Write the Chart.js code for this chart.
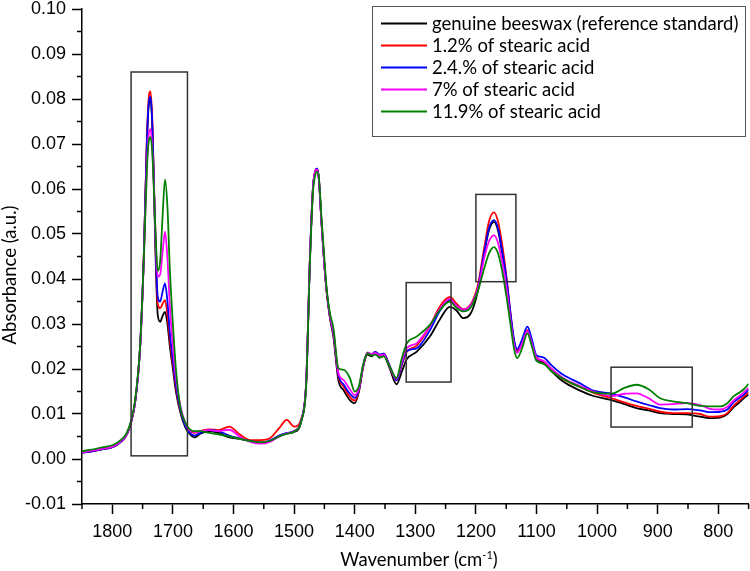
<!DOCTYPE html>
<html>
<head>
<meta charset="utf-8">
<script src="https://cdn.jsdelivr.net/npm/chart.js@4.4.1/dist/chart.umd.min.js"></script>
<style>
  body { margin: 0; background: #fff; }
</style>
</head>
<body>
<canvas id="spectraChart" width="750" height="571"></canvas>
<script>
// wavenumbers (cm-1), shared by every spectrum
const wavenumbers = [1850, 1820, 1790, 1772, 1762, 1754, 1748, 1743, 1740, 1737, 1734, 1731, 1728, 1725, 1721, 1717, 1713, 1709, 1705, 1700, 1695, 1688, 1680, 1672, 1664, 1655, 1640, 1625, 1607, 1590, 1572, 1555, 1540, 1525, 1512, 1500, 1488, 1480, 1474, 1469, 1465, 1462, 1459, 1455, 1450, 1446, 1441, 1435, 1427, 1418, 1408, 1400, 1393, 1386, 1379, 1372, 1366, 1359, 1352, 1342, 1331, 1322, 1314, 1298, 1276, 1260, 1243, 1232, 1221, 1208, 1197, 1186, 1178, 1170, 1163, 1157, 1150, 1143, 1137, 1132, 1124, 1115, 1108, 1100, 1089, 1075, 1056, 1028, 1006, 976, 955, 935, 915, 896, 875, 852, 830, 815, 797, 785, 775, 765, 758, 750];

const beeswax = [0.0014, 0.0021, 0.0034, 0.0068, 0.0130, 0.0250, 0.0450, 0.0700, 0.0785, 0.0800, 0.0740, 0.0590, 0.0420, 0.0320, 0.0305, 0.0318, 0.0327, 0.0300, 0.0250, 0.0200, 0.0150, 0.0105, 0.0072, 0.0055, 0.0048, 0.0056, 0.0062, 0.0058, 0.0048, 0.0045, 0.0040, 0.0037, 0.0040, 0.0050, 0.0057, 0.0060, 0.0085, 0.0170, 0.0440, 0.0600, 0.0640, 0.0645, 0.0620, 0.0530, 0.0430, 0.0368, 0.0315, 0.0270, 0.0176, 0.0152, 0.0131, 0.0124, 0.0150, 0.0205, 0.0232, 0.0228, 0.0235, 0.0225, 0.0230, 0.0200, 0.0166, 0.0195, 0.0222, 0.0238, 0.0272, 0.0309, 0.0338, 0.0330, 0.0313, 0.0325, 0.0372, 0.0460, 0.0510, 0.0527, 0.0505, 0.0460, 0.0400, 0.0320, 0.0260, 0.0240, 0.0258, 0.0286, 0.0260, 0.0224, 0.0215, 0.0195, 0.0172, 0.0152, 0.0140, 0.0131, 0.0122, 0.0113, 0.0108, 0.0102, 0.0100, 0.0099, 0.0094, 0.0091, 0.0092, 0.0100, 0.0115, 0.0126, 0.0135, 0.0143];

const stearic12 = [0.0014, 0.0021, 0.0034, 0.0068, 0.0130, 0.0252, 0.0455, 0.0710, 0.0800, 0.0817, 0.0755, 0.0600, 0.0440, 0.0345, 0.0335, 0.0345, 0.0353, 0.0320, 0.0265, 0.0210, 0.0158, 0.0110, 0.0078, 0.0062, 0.0058, 0.0062, 0.0066, 0.0064, 0.0072, 0.0055, 0.0042, 0.0042, 0.0046, 0.0068, 0.0087, 0.0072, 0.0090, 0.0172, 0.0440, 0.0600, 0.0640, 0.0645, 0.0620, 0.0530, 0.0430, 0.0368, 0.0316, 0.0275, 0.0185, 0.0160, 0.0138, 0.0130, 0.0152, 0.0205, 0.0235, 0.0232, 0.0238, 0.0230, 0.0234, 0.0205, 0.0175, 0.0210, 0.0238, 0.0252, 0.0295, 0.0338, 0.0360, 0.0345, 0.0333, 0.0345, 0.0385, 0.0472, 0.0530, 0.0548, 0.0525, 0.0480, 0.0410, 0.0325, 0.0260, 0.0242, 0.0260, 0.0286, 0.0260, 0.0226, 0.0218, 0.0200, 0.0178, 0.0160, 0.0147, 0.0135, 0.0126, 0.0118, 0.0112, 0.0105, 0.0102, 0.0102, 0.0100, 0.0094, 0.0095, 0.0102, 0.0118, 0.0130, 0.0138, 0.0148];

const stearic24 = [0.0014, 0.0021, 0.0034, 0.0068, 0.0130, 0.0251, 0.0452, 0.0700, 0.0790, 0.0805, 0.0745, 0.0595, 0.0450, 0.0360, 0.0350, 0.0372, 0.0390, 0.0350, 0.0280, 0.0220, 0.0165, 0.0112, 0.0075, 0.0058, 0.0052, 0.0058, 0.0064, 0.0062, 0.0052, 0.0046, 0.0040, 0.0036, 0.0041, 0.0052, 0.0058, 0.0062, 0.0087, 0.0172, 0.0440, 0.0600, 0.0640, 0.0645, 0.0620, 0.0530, 0.0430, 0.0370, 0.0318, 0.0278, 0.0188, 0.0165, 0.0145, 0.0136, 0.0155, 0.0207, 0.0236, 0.0233, 0.0238, 0.0232, 0.0234, 0.0206, 0.0175, 0.0212, 0.0240, 0.0246, 0.0286, 0.0328, 0.0353, 0.0340, 0.0331, 0.0342, 0.0378, 0.0462, 0.0515, 0.0531, 0.0510, 0.0465, 0.0405, 0.0325, 0.0265, 0.0244, 0.0265, 0.0294, 0.0268, 0.0230, 0.0226, 0.0208, 0.0187, 0.0168, 0.0152, 0.0145, 0.0137, 0.0128, 0.0120, 0.0113, 0.0110, 0.0111, 0.0108, 0.0104, 0.0105, 0.0110, 0.0126, 0.0136, 0.0143, 0.0154];

const stearic7 = [0.0015, 0.0022, 0.0035, 0.0069, 0.0132, 0.0250, 0.0440, 0.0655, 0.0720, 0.0733, 0.0690, 0.0590, 0.0470, 0.0405, 0.0410, 0.0460, 0.0505, 0.0445, 0.0340, 0.0250, 0.0180, 0.0120, 0.0082, 0.0063, 0.0060, 0.0062, 0.0064, 0.0062, 0.0065, 0.0050, 0.0038, 0.0034, 0.0038, 0.0050, 0.0057, 0.0062, 0.0086, 0.0170, 0.0440, 0.0598, 0.0640, 0.0643, 0.0620, 0.0530, 0.0430, 0.0370, 0.0320, 0.0282, 0.0192, 0.0175, 0.0155, 0.0142, 0.0158, 0.0208, 0.0237, 0.0233, 0.0236, 0.0230, 0.0232, 0.0204, 0.0178, 0.0218, 0.0246, 0.0257, 0.0296, 0.0333, 0.0356, 0.0340, 0.0332, 0.0342, 0.0376, 0.0448, 0.0485, 0.0497, 0.0478, 0.0440, 0.0385, 0.0310, 0.0255, 0.0236, 0.0255, 0.0284, 0.0258, 0.0225, 0.0218, 0.0200, 0.0180, 0.0162, 0.0150, 0.0140, 0.0145, 0.0146, 0.0135, 0.0121, 0.0122, 0.0124, 0.0120, 0.0112, 0.0110, 0.0116, 0.0130, 0.0140, 0.0148, 0.0158];

const stearic119 = [0.0017, 0.0025, 0.0038, 0.0072, 0.0135, 0.0255, 0.0445, 0.0640, 0.0705, 0.0715, 0.0680, 0.0585, 0.0480, 0.0418, 0.0440, 0.0540, 0.0621, 0.0560, 0.0420, 0.0300, 0.0200, 0.0117, 0.0082, 0.0066, 0.0062, 0.0062, 0.0058, 0.0055, 0.0050, 0.0045, 0.0040, 0.0037, 0.0040, 0.0050, 0.0056, 0.0061, 0.0085, 0.0165, 0.0430, 0.0590, 0.0632, 0.0638, 0.0625, 0.0540, 0.0445, 0.0375, 0.0325, 0.0290, 0.0202, 0.0198, 0.0180, 0.0150, 0.0162, 0.0210, 0.0235, 0.0230, 0.0232, 0.0226, 0.0228, 0.0205, 0.0180, 0.0225, 0.0257, 0.0272, 0.0298, 0.0330, 0.0350, 0.0336, 0.0328, 0.0338, 0.0372, 0.0425, 0.0458, 0.0471, 0.0455, 0.0420, 0.0365, 0.0300, 0.0245, 0.0224, 0.0245, 0.0279, 0.0252, 0.0218, 0.0212, 0.0195, 0.0178, 0.0160, 0.0148, 0.0145, 0.0158, 0.0165, 0.0155, 0.0135, 0.0128, 0.0124, 0.0118, 0.0117, 0.0117, 0.0124, 0.0139, 0.0148, 0.0155, 0.0167];

const seriesLabels = ['genuine beeswax (reference standard)', '1.2% of stearic acid', '2.4.% of stearic acid', '7% of stearic acid', '11.9% of stearic acid'];
const seriesColors = ['#000000', '#ff0000', '#0000ff', '#ff00ff', '#008000'];
const seriesValues = [beeswax, stearic12, stearic24, stearic7, stearic119];

const xTicks = [1800, 1700, 1600, 1500, 1400, 1300, 1200, 1100, 1000, 900, 800];
const xMinorTicks = [1850, 1750, 1650, 1550, 1450, 1350, 1250, 1150, 1050, 950, 850, 750];
const yTicks = [-0.01, 0, 0.01, 0.02, 0.03, 0.04, 0.05, 0.06, 0.07, 0.08, 0.09, 0.10];
const yMinorTicks = [-0.005, 0.005, 0.015, 0.025, 0.035, 0.045, 0.055, 0.065, 0.075, 0.085, 0.095];

// highlighted regions: [wavenumber from, wavenumber to], [absorbance low, absorbance high]
const regionWn = [[1769, 1676], [1315, 1241], [1200, 1134], [977, 843]];
const regionAbs = [[0.0007, 0.0860], [0.0171, 0.0392], [0.0394, 0.0588], [0.0071, 0.0204]];

const textFont = 'Lato';
const textSize = 18.5;

const datasets = seriesValues.map((vals, i) => ({
    label: seriesLabels[i],
    data: wavenumbers.map((wn, j) => ({ x: wn, y: vals[j] })),
    borderColor: seriesColors[i],
    borderWidth: 1.8,
    pointRadius: 0,
    cubicInterpolationMode: 'monotone',
    order: seriesValues.length - i
}));

const extras = {
    id: 'extras',
    afterDatasetsDraw(chart) {
        const ctx = chart.ctx;
        const x = chart.scales.x;
        const y = chart.scales.y;
        ctx.save();
        ctx.strokeStyle = '#333';
        ctx.lineWidth = 1.5;
        regionWn.forEach((r, i) => {
            const x1 = x.getPixelForValue(r[0]);
            const x2 = x.getPixelForValue(r[1]);
            const y1 = y.getPixelForValue(regionAbs[i][1]);
            const y2 = y.getPixelForValue(regionAbs[i][0]);
            ctx.strokeRect(x1, y1, x2 - x1, y2 - y1);
        });
        ctx.restore();
    },
    afterDraw(chart) {
        const ctx = chart.ctx;
        const x = chart.scales.x;
        const y = chart.scales.y;
        const area = chart.chartArea;
        ctx.save();

        // minor ticks
        ctx.strokeStyle = '#000';
        ctx.lineWidth = 1.5;
        ctx.beginPath();
        xMinorTicks.forEach(v => {
            const px = x.getPixelForValue(v);
            ctx.moveTo(px, area.bottom);
            ctx.lineTo(px, area.bottom + 5);
        });
        yMinorTicks.forEach(v => {
            const py = y.getPixelForValue(v);
            ctx.moveTo(area.left, py);
            ctx.lineTo(area.left - 5, py);
        });
        ctx.stroke();

        // axis titles
        const big = textSize + 'px ' + textFont;
        const small = '11px ' + textFont;
        ctx.fillStyle = '#000';
        ctx.font = big;
        ctx.textBaseline = 'alphabetic';
        ctx.save();
        ctx.translate(16, 275);
        ctx.rotate(-Math.PI / 2);
        ctx.textAlign = 'center';
        ctx.fillText('Absorbance (a.u.)', 0, 0);
        ctx.restore();

        const main = 'Wavenumber (cm';
        const sup = '-1';
        const close = ')';
        ctx.font = big;
        const w1 = ctx.measureText(main).width;
        const w3 = ctx.measureText(close).width;
        ctx.font = small;
        const w2 = ctx.measureText(sup).width;
        const tx = 419 - (w1 + w2 + w3) / 2;
        ctx.textAlign = 'left';
        ctx.font = big;
        ctx.fillText(main, tx, 566);
        ctx.font = small;
        ctx.fillText(sup, tx + w1, 559);
        ctx.font = big;
        ctx.fillText(close, tx + w1 + w2, 566);

        // legend
        ctx.fillStyle = '#fff';
        ctx.fillRect(372, 6, 373, 130);
        ctx.strokeStyle = '#555';
        ctx.lineWidth = 1;
        ctx.strokeRect(372.5, 6.5, 373, 130);
        ctx.font = big;
        ctx.textBaseline = 'middle';
        ctx.fillStyle = '#000';
        seriesLabels.forEach((label, i) => {
            const ry = 23.5 + i * 22;
            ctx.strokeStyle = seriesColors[i];
            ctx.lineWidth = 1.8;
            ctx.beginPath();
            ctx.moveTo(381, ry);
            ctx.lineTo(427, ry);
            ctx.stroke();
            ctx.fillText(label, 432, ry + 1);
        });
        ctx.restore();
    }
};

const ctx = document.getElementById('spectraChart').getContext('2d');
const spectraChart = new Chart(ctx, {
    type: 'line',
    data: { datasets: datasets },
    plugins: [extras],
    options: {
        responsive: false,
        animation: false,
        devicePixelRatio: 1,
        layout: { padding: { top: 9, right: 1.4, left: 0, bottom: 0 } },
        plugins: {
            legend: { display: false },
            tooltip: { enabled: false }
        },
        scales: {
            x: {
                type: 'linear',
                reverse: true,
                min: 750,
                max: 1850,
                afterBuildTicks: scale => { scale.ticks = xTicks.map(v => ({ value: v })); },
                afterFit: scale => {
                    scale.height = 67;
                    scale.paddingLeft = 0;
                    scale.paddingRight = 0;
                },
                grid: { drawOnChartArea: false, drawTicks: true, tickLength: 10, tickColor: '#000', tickWidth: 1.5 },
                border: { display: true, color: '#000', width: 1.5 },
                ticks: {
                    color: '#000',
                    padding: 7,
                    maxRotation: 0,
                    autoSkip: false,
                    font: { family: '"Liberation Sans", Arial', size: 18 },
                    callback: value => String(value)
                }
            },
            y: {
                type: 'linear',
                min: -0.01,
                max: 0.10,
                afterBuildTicks: scale => { scale.ticks = yTicks.map(v => ({ value: v })); },
                afterFit: scale => {
                    scale.width = 82;
                    scale.paddingTop = 0;
                    scale.paddingBottom = 0;
                },
                grid: { drawOnChartArea: false, drawTicks: true, tickLength: 10, tickColor: '#000', tickWidth: 1.5 },
                border: { display: true, color: '#000', width: 1.5 },
                ticks: {
                    color: '#000',
                    padding: 6,
                    autoSkip: false,
                    font: { family: '"Liberation Sans", Arial', size: 18 },
                    callback: value => value.toFixed(2)
                }
            }
        }
    }
});
</script>
</body>
</html>
